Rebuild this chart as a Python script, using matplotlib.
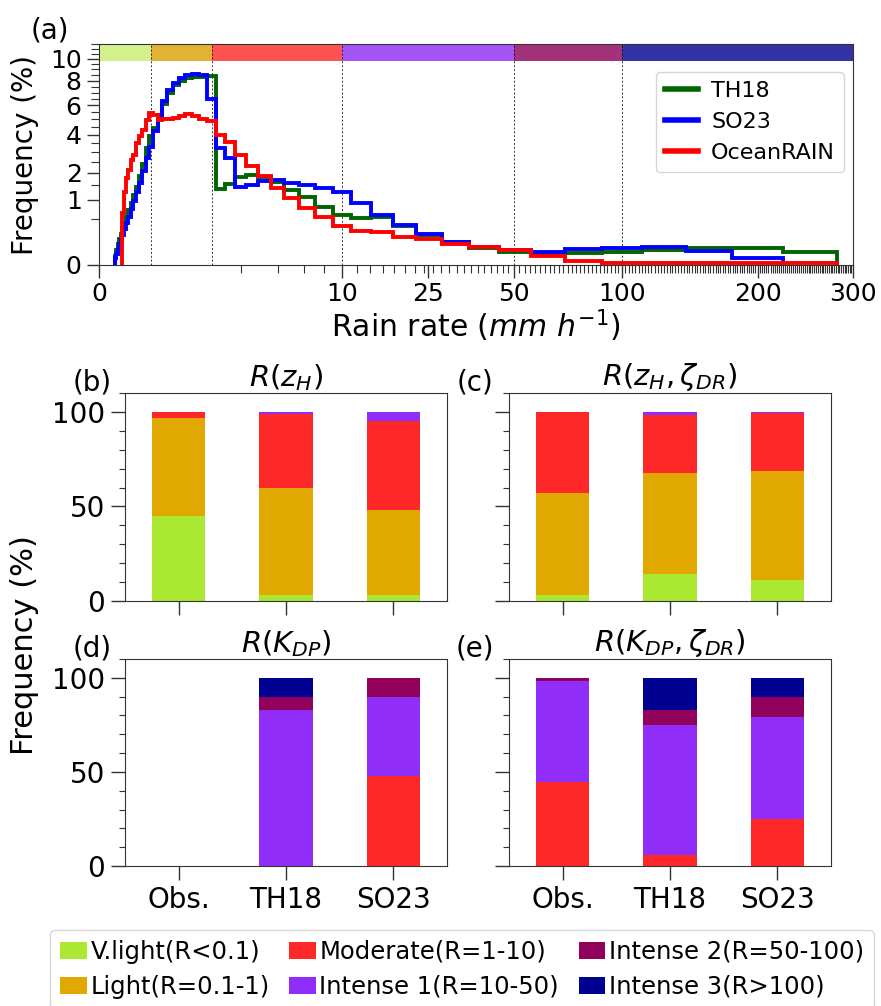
import matplotlib
matplotlib.use("Agg")
import matplotlib.pyplot as plt
import numpy as np
from matplotlib.ticker import MultipleLocator, FixedLocator, FixedFormatter, NullFormatter

# histogram bins: 10 per decade, edges half-way between decades
rain_edges = 10 ** np.arange(-2.55, 2.5, 0.1)

# TH18 frequency (%) per bin, bins 0..49
th18_freq = [0.02, 0.05, 0.1, 0.16, 0.22, 0.3, 0.4, 0.55, 0.7, 0.9,
             1.15, 1.45, 1.85, 2.4, 3.2, 3.9, 4.4, 5.2, 6.1, 7.0,
             7.6, 8.0, 8.2, 8.3, 8.35, 8.4, 1.36, 1.55, 1.82, 1.92,
             1.82, 1.64, 1.33, 1.08, 0.80, 0.58, 0.52, 0.54, 0.36, 0.21,
             0.13, 0.066, 0.04, 0.032, 0.032, 0.038, 0.05, 0.066, 0.066, 0.042]
# SO23, bins 0..48
so23_freq = [0.01, 0.03, 0.06, 0.1, 0.15, 0.21, 0.3, 0.42, 0.55, 0.75,
             0.95, 1.25, 1.6, 2.1, 2.7, 3.3, 4.2, 5.3, 6.3, 7.2,
             7.8, 8.2, 8.5, 8.6, 8.5, 6.45, 3.22, 2.69, 1.45, 1.51,
             1.68, 1.71, 1.60, 1.51, 1.39, 1.26, 0.90, 0.59, 0.37, 0.22,
             0.13, 0.074, 0.05, 0.042, 0.058, 0.071, 0.08, 0.047, 0.011]
# OceanRAIN, bins 5..49
oceanrain_first_bin = 5
oceanrain_freq = [0.64, 1.27, 1.78, 2.14, 2.61, 2.86, 3.5, 3.9, 4.31, 4.98,
                  5.44, 5.33, 4.98, 5.0, 5.05, 5.1, 5.2, 5.35, 5.2, 5.05,
                  4.86, 4.0, 3.54, 2.86, 2.32, 1.85, 1.39, 1.05, 0.76, 0.55,
                  0.35, 0.28, 0.25, 0.18, 0.156, 0.10, 0.08, 0.054, 0.019, 0.0045,
                  0.001, 0.001, 0.001, 0.001, 0.001]

class_bounds = [0, 0.1, 1, 10, 50, 100, 300]
class_labels = ["V.light(R<0.1)", "Light(R=0.1-1)", "Moderate(R=1-10)",
                "Intense 1(R=10-50)", "Intense 2(R=50-100)", "Intense 3(R>100)"]
class_colors = ["#aae832", "#e0a800", "#ff2828", "#912df8", "#91005a", "#000091"]
band_colors = ["#d4f08c", "#e2b333", "#ff5252", "#a555f5", "#a3327a", "#3333a8"]

sources = ["Obs.", "TH18", "SO23"]
# class fractions (%) per source: rows = sources, cols = classes
frac_zh = [[45, 52, 3, 0, 0, 0],
           [3, 57, 39, 1, 0, 0],
           [3, 45, 47, 5, 0, 0]]
frac_zh_zdr = [[3, 54, 43, 0, 0, 0],
               [14.5, 53, 31, 1.5, 0, 0],
               [11, 58, 30.5, 0.5, 0, 0]]
frac_kdp = [[0, 0, 0, 0, 0, 0],
            [0, 0, 0, 83, 7, 10],
            [0, 0, 48, 42, 10, 0]]
frac_kdp_zdr = [[0, 0, 44.5, 54, 1.5, 0],
                [0, 0, 6, 69, 8, 17],
                [0, 0, 25, 54, 11, 10]]

W, H = 881, 1006
fig = plt.figure(figsize=(W / 100, H / 100), dpi=100)


def px_axes(x0, y0, x1, y1):
    return fig.add_axes([x0 / W, 1 - y1 / H, (x1 - x0) / W, (y1 - y0) / H])


tick_kw = dict(direction="out", color="#333333")

# ---- panel (a)
ax = px_axes(99, 44, 853, 265)
ax.set_xscale("function", functions=(np.cbrt, lambda x: x ** 3))
ax.set_yscale("function", functions=(lambda y: np.sqrt(np.maximum(y, 0)), lambda y: y ** 2))
ax.stairs(th18_freq, rain_edges[:len(th18_freq) + 1], color="darkgreen", lw=2.8, label="TH18")
ax.stairs(so23_freq, rain_edges[:len(so23_freq) + 1], color="blue", lw=2.8, label="SO23")
ax.stairs(oceanrain_freq,
          rain_edges[oceanrain_first_bin:oceanrain_first_bin + len(oceanrain_freq) + 1],
          color="red", lw=2.8, label="OceanRAIN")
ax.set_xlim(0, 300)
ax.set_ylim(0, 11.5)
for i in range(len(class_bounds) - 1):
    ax.axvspan(class_bounds[i], class_bounds[i + 1], ymin=0.921, ymax=1,
               color=band_colors[i], lw=0, zorder=0.5)
for b in class_bounds[1:-1]:
    ax.axvline(b, ls=(0, (2, 2)), color="k", lw=0.7, alpha=0.8, zorder=0.6)
ax.xaxis.set_major_locator(FixedLocator([0, 10, 25, 50, 100, 200, 300]))
ax.xaxis.set_major_formatter(FixedFormatter(["0", "10", "25", "50", "100", "200", "300"]))
ax.xaxis.set_minor_locator(MultipleLocator(2))
ax.yaxis.set_major_locator(FixedLocator([0, 1, 2, 4, 6, 8, 10]))
ax.yaxis.set_major_formatter(FixedFormatter(["0", "1", "2", "4", "6", "8", "10"]))
ax.yaxis.set_minor_locator(MultipleLocator(0.5))
ax.yaxis.set_minor_formatter(NullFormatter())
ax.xaxis.set_minor_formatter(NullFormatter())
ax.tick_params(which="major", length=9, width=1, labelsize=18, **tick_kw)
ax.tick_params(which="minor", length=6, width=0.8, **tick_kw)
ax.set_xlabel(r"Rain rate ($mm\ h^{-1}$)", fontsize=21.5, labelpad=1)
ax.legend(loc="upper right", bbox_to_anchor=(0.988, 0.873), borderaxespad=0,
          fontsize=16, handlelength=1.5, handletextpad=0.6)
for h in ax.get_legend().get_lines():
    h.set_linewidth(4)
for s in ax.spines.values():
    s.set_color("#333333")
fig.text(25 / W, 1 - 155 / H, "Frequency (%)", rotation=90, ha="center", va="center", fontsize=20)
fig.text(50 / W, 1 - 31 / H, "(a)", ha="center", va="center", fontsize=20)

# ---- bar panels
panels = [
    ("(b)", r"$R(z_H)$", frac_zh, (125, 393, 447, 601), True, False),
    ("(c)", r"$R(z_H,\zeta_{DR})$", frac_zh_zdr, (509, 393, 831, 601), False, False),
    ("(d)", r"$R(K_{DP})$", frac_kdp, (125, 659, 447, 866), True, True),
    ("(e)", r"$R(K_{DP},\zeta_{DR})$", frac_kdp_zdr, (509, 659, 831, 866), False, True),
]
handles = []
for tag, title, frac, box, ylab, xlab in panels:
    bx = px_axes(*box)
    frac = np.array(frac, dtype=float)
    xpos = np.arange(len(sources))
    bottom = np.zeros(len(sources))
    for k in range(len(class_labels)):
        bars = bx.bar(xpos, frac[:, k], 0.5, bottom=bottom, color=class_colors[k],
                      label=class_labels[k])
        bottom += frac[:, k]
        if tag == "(b)":
            handles.append(bars)
    bx.set_xlim(-0.5, 2.5)
    bx.set_ylim(0, 110)
    bx.set_yticks([0, 50, 100])
    bx.yaxis.set_minor_locator(MultipleLocator(10))
    bx.set_xticks(xpos)
    bx.set_xticklabels(sources if xlab else [])
    if not ylab:
        bx.set_yticklabels([])
    bx.tick_params(which="major", length=10, width=1, pad=4.5, labelsize=20, **tick_kw)
    bx.tick_params(which="minor", length=4.5, width=0.8, **tick_kw)
    for s in bx.spines.values():
        s.set_color("#333333")
    bx.set_title(title, fontsize=21, pad=5)
    cx = box[0] - 33 if tag in ("(b)", "(d)") else box[0] - 34
    fig.text(cx / W, 1 - (box[1] - 10) / H, tag, ha="center", va="center", fontsize=20)

fig.text(25 / W, 1 - 645 / H, "Frequency (%)", rotation=90, ha="center", va="center", fontsize=22)

fig.legend(handles, class_labels, ncol=3, loc="upper center",
           bbox_to_anchor=(462 / W, 1 - 930 / H), fontsize=17.5, handlelength=1.1,
           handletextpad=0.15, columnspacing=0.8, labelspacing=0.45,
           borderaxespad=0, borderpad=0.4)

fig.savefig("out.png", dpi=100)
